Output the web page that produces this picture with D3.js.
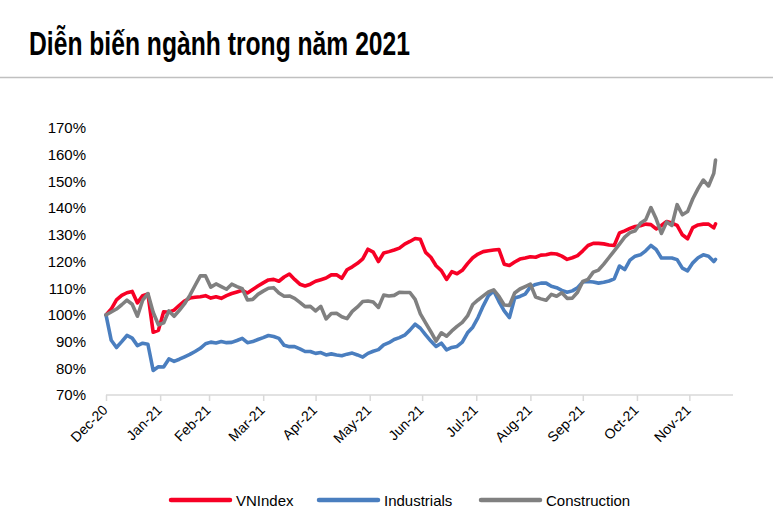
<!DOCTYPE html>
<html><head><meta charset="utf-8">
<script src="https://cdn.jsdelivr.net/npm/d3@7"></script>
<style>
body{margin:0;background:#fff}
svg{display:block}
text{font-family:"Liberation Sans",Arial,sans-serif;fill:#000}
</style>
</head><body>
<svg id="chart" width="773" height="519"></svg>
<script>
const titleText = "Diễn biến ngành trong năm 2021";
const seriesNames = ["VNIndex", "Industrials", "Construction"];
const yTicks = [70, 80, 90, 100, 110, 120, 130, 140, 150, 160, 170];
const xTickDates = ["2020-12-31","2021-01-31","2021-02-28","2021-03-31","2021-04-30","2021-05-31","2021-06-30","2021-07-31","2021-08-31","2021-09-30","2021-10-31","2021-11-30"];
const xTickLabels = ["Dec-20","Jan-21","Feb-21","Mar-21","Apr-21","May-21","Jun-21","Jul-21","Aug-21","Sep-21","Oct-21","Nov-21"];

const dates = [
"2020-12-31",
"2021-01-03","2021-01-06","2021-01-09","2021-01-12","2021-01-15","2021-01-18","2021-01-21","2021-01-24","2021-01-27","2021-01-30",
"2021-02-02","2021-02-05","2021-02-08","2021-02-11","2021-02-14","2021-02-17","2021-02-20","2021-02-23","2021-02-26",
"2021-03-01","2021-03-04","2021-03-07","2021-03-10","2021-03-13","2021-03-16","2021-03-19","2021-03-22","2021-03-25","2021-03-28","2021-03-31",
"2021-04-03","2021-04-06","2021-04-09","2021-04-12","2021-04-15","2021-04-18","2021-04-21","2021-04-24","2021-04-27","2021-04-30",
"2021-05-03","2021-05-06","2021-05-09","2021-05-12","2021-05-15","2021-05-18","2021-05-21","2021-05-24","2021-05-27","2021-05-30",
"2021-06-02","2021-06-05","2021-06-08","2021-06-11","2021-06-14","2021-06-17","2021-06-20","2021-06-23","2021-06-26","2021-06-29",
"2021-07-02","2021-07-05","2021-07-08","2021-07-11","2021-07-14","2021-07-17","2021-07-20","2021-07-23","2021-07-26","2021-07-29",
"2021-08-01","2021-08-04","2021-08-07","2021-08-10","2021-08-13","2021-08-16","2021-08-19","2021-08-22","2021-08-25","2021-08-28","2021-08-31",
"2021-09-03","2021-09-06","2021-09-09","2021-09-12","2021-09-15","2021-09-18","2021-09-21","2021-09-24","2021-09-27","2021-09-30",
"2021-10-03","2021-10-06","2021-10-09","2021-10-12","2021-10-15","2021-10-18","2021-10-21","2021-10-24","2021-10-27","2021-10-30",
"2021-11-02","2021-11-05","2021-11-08","2021-11-11","2021-11-14","2021-11-17","2021-11-20","2021-11-23","2021-11-26","2021-11-29",
"2021-12-02","2021-12-05","2021-12-08","2021-12-11","2021-12-14","2021-12-15"
];

const vnindex = [
100, 102.2, 105.6, 107.3, 108.3, 108.8, 104.5, 107.2, 107.8, 93.5,
94.2, 101.2, 101, 101.8, 103.6, 105.2, 106.3, 106.6, 106.8, 107.2,
106.3, 106.8, 106.2, 107.2, 108, 108.6, 109.2, 108.2, 109.5, 110.8,
112, 113.1, 113.3, 112.6, 114.2, 115.3, 113.3, 111.5, 110.8, 111.5,
112.6, 113.2, 113.8, 115, 115, 113.7, 116.9, 118, 119.3, 121,
124.6, 123.5, 120, 123.2, 123.7, 124.3, 125, 126.5, 127.5, 128.6,
128.3, 123.4, 121.6, 118.4, 116.6, 113.3, 116.2, 115.4, 116.7, 119.2,
121.4, 122.8, 123.7, 124, 124.3, 124.5, 119, 118.5, 119.8, 120.9,
121.3, 121.8, 121.6, 122.4, 122.5, 123, 122.8, 122, 120.8, 121.4,
122.2, 124, 126, 126.8, 126.8, 126.6, 126.2, 126, 130.7, 131.5,
132.4, 133.1, 133.4, 134, 133.8, 132.2, 133.5, 135, 134.4, 133.5,
130, 128.5, 132.7, 133.7, 134, 134, 132.6, 134.1
];

const industrials = [
100, 90.5, 87.8, 90, 92.3, 91.3, 88.5, 89.4, 89, 79.2,
80.6, 80.5, 83.5, 82.6, 83.4, 84.3, 85.2, 86.3, 87.5, 89.2,
89.8, 89.5, 90, 89.6, 89.7, 90.4, 91.2, 89.6, 90, 90.8,
91.5, 92.3, 91.9, 91.2, 88.6, 88.1, 88.1, 87.3, 86.3, 86.3,
85.6, 85.9, 85, 85.4, 85, 84.7, 85.3, 85.7, 85, 84.2,
85.6, 86.4, 87, 88.8, 89.6, 90.8, 91.5, 92.4, 94.3, 96.5,
95, 92.5, 90.2, 88.2, 89.4, 86.9, 87.8, 88.2, 89.8, 93.3,
95.4, 99, 103.4, 107.2, 109, 105, 101.5, 99, 106.3, 106.9,
107.8, 110.5, 111.4, 111.9, 111.9, 110.7, 110.2, 109.2, 108.5, 109,
110.2, 112.3, 112.5, 112.3, 111.9, 112.2, 112.7, 113.5, 118.3, 117,
120.5, 122, 122.5, 124, 126, 124.5, 121.3, 121.3, 121.3, 120.7,
117.5, 116.5, 119.5, 121.4, 122.5, 122, 120, 120.8
];

const construction = [
100, 101.1, 102.2, 103.8, 105.5, 104, 99.5, 105.5, 108, 101,
96.3, 97, 101.5, 99.5, 101.7, 104.2, 107.3, 111, 114.6, 114.6,
110.4, 111.6, 110.6, 109.6, 111.5, 110.6, 109.8, 105.6, 105.8, 107.7,
108.9, 110, 110.2, 108.2, 107, 107.1, 106.2, 104.7, 103.1, 103.2,
101.5, 103.2, 98.5, 100.5, 100.6, 99.3, 98.6, 101.3, 103, 105,
105.2, 104.8, 102.8, 107.4, 107.1, 107.3, 108.5, 108.4, 108.4, 105.8,
100.4, 97, 93.7, 90.2, 93.3, 92, 94, 95.7, 97.2, 99.6,
103.9, 105.6, 107.1, 108.6, 109.4, 106.9, 103.7, 103.5, 108.2, 109.7,
110.6, 111.5, 106.7, 106, 105.5, 107.7, 107, 108.3, 106.2, 106.3,
108.5, 112.5, 113.3, 116, 116.8, 119, 121.5, 124, 126.5, 129.1,
130.8, 131.5, 134.3, 135.6, 140.2, 136, 130.5, 134.8, 133.5, 141.3,
137.5, 138.7, 143.5, 147.3, 150.5, 148.3, 153, 158
];

const axisStart = "2020-12-31";
const axisEnd = "2021-12-25";

// ---- drawing ----
const parse = d3.timeParse("%Y-%m-%d");
const svg = d3.select("#chart");
const colors = ["#f70025", "#4a7ebf", "#808080"];

// title + separator
svg.append("text")
  .attr("x", 29).attr("y", 55)
  .attr("textLength", 381).attr("lengthAdjust", "spacingAndGlyphs")
  .style("font-family", "'Liberation Sans Narrow','Arial Narrow','Liberation Sans',sans-serif")
  .style("font-weight", "bold").style("font-size", "33px")
  .text(titleText);
svg.append("line").attr("x1", 0).attr("x2", 773).attr("y1", 77.5).attr("y2", 77.5)
  .attr("stroke", "#c0c0c0").attr("stroke-width", 1.5);

const x = d3.scaleTime().domain([parse(axisStart), parse(axisEnd)]).range([106, 733]);
const y = d3.scaleLinear().domain([70, 170]).range([395, 128]);

// y axis labels
const yAxis = d3.axisLeft(y).tickValues(yTicks).tickSize(0).tickPadding(0)
  .tickFormat(d => d + "%");
const gy = svg.append("g").attr("transform", "translate(86,0)").call(yAxis);
gy.select(".domain").remove();
gy.selectAll("text").style("font-size", "15px").style("font-family", "'Liberation Sans',Arial,sans-serif").attr("fill", "#000");

// x axis
const xAxis = d3.axisBottom(x).tickValues(xTickDates.map(parse)).tickSize(6)
  .tickFormat((d, i) => xTickLabels[i]);
const gx = svg.append("g").attr("transform", "translate(0,395)").call(xAxis);
gx.select(".domain").attr("stroke", "#d9d9d9").attr("stroke-width", 1.5)
  .attr("d", `M106,0H733`);
gx.selectAll(".tick line").attr("stroke", "#d9d9d9").attr("stroke-width", 1.5);
gx.selectAll(".tick text")
  .style("font-size", "14px").style("font-family", "'Liberation Sans',Arial,sans-serif")
  .attr("fill", "#000")
  .attr("text-anchor", "end")
  .attr("transform", "translate(2,16) rotate(-45)")
  .attr("x", 0).attr("y", 0).attr("dy", "0");

// lines (VNIndex, Industrials, Construction on top)
const seriesData = [vnindex, industrials, construction];
const line = d3.line().x(d => x(d[0])).y(d => y(d[1]));
seriesData.forEach((vals, k) => {
  const pts = dates.map((d, i) => [parse(d), vals[i]]);
  svg.append("path").datum(pts)
    .attr("fill", "none").attr("stroke", colors[k]).attr("stroke-width", 3.6)
    .attr("stroke-linejoin", "round").attr("stroke-linecap", "round")
    .attr("d", line);
});

// legend
const legendX = [171, 319, 481];
seriesNames.forEach((n, k) => {
  const g = svg.append("g").attr("transform", `translate(${legendX[k]},500)`);
  g.append("line").attr("x1", 0).attr("x2", 59).attr("y1", 0).attr("y2", 0)
    .attr("stroke", colors[k]).attr("stroke-width", 4.5).attr("stroke-linecap", "round");
  g.append("text").attr("x", 65).attr("y", 5.5).style("font-size", "15px").text(n);
});
</script>
</body></html>
